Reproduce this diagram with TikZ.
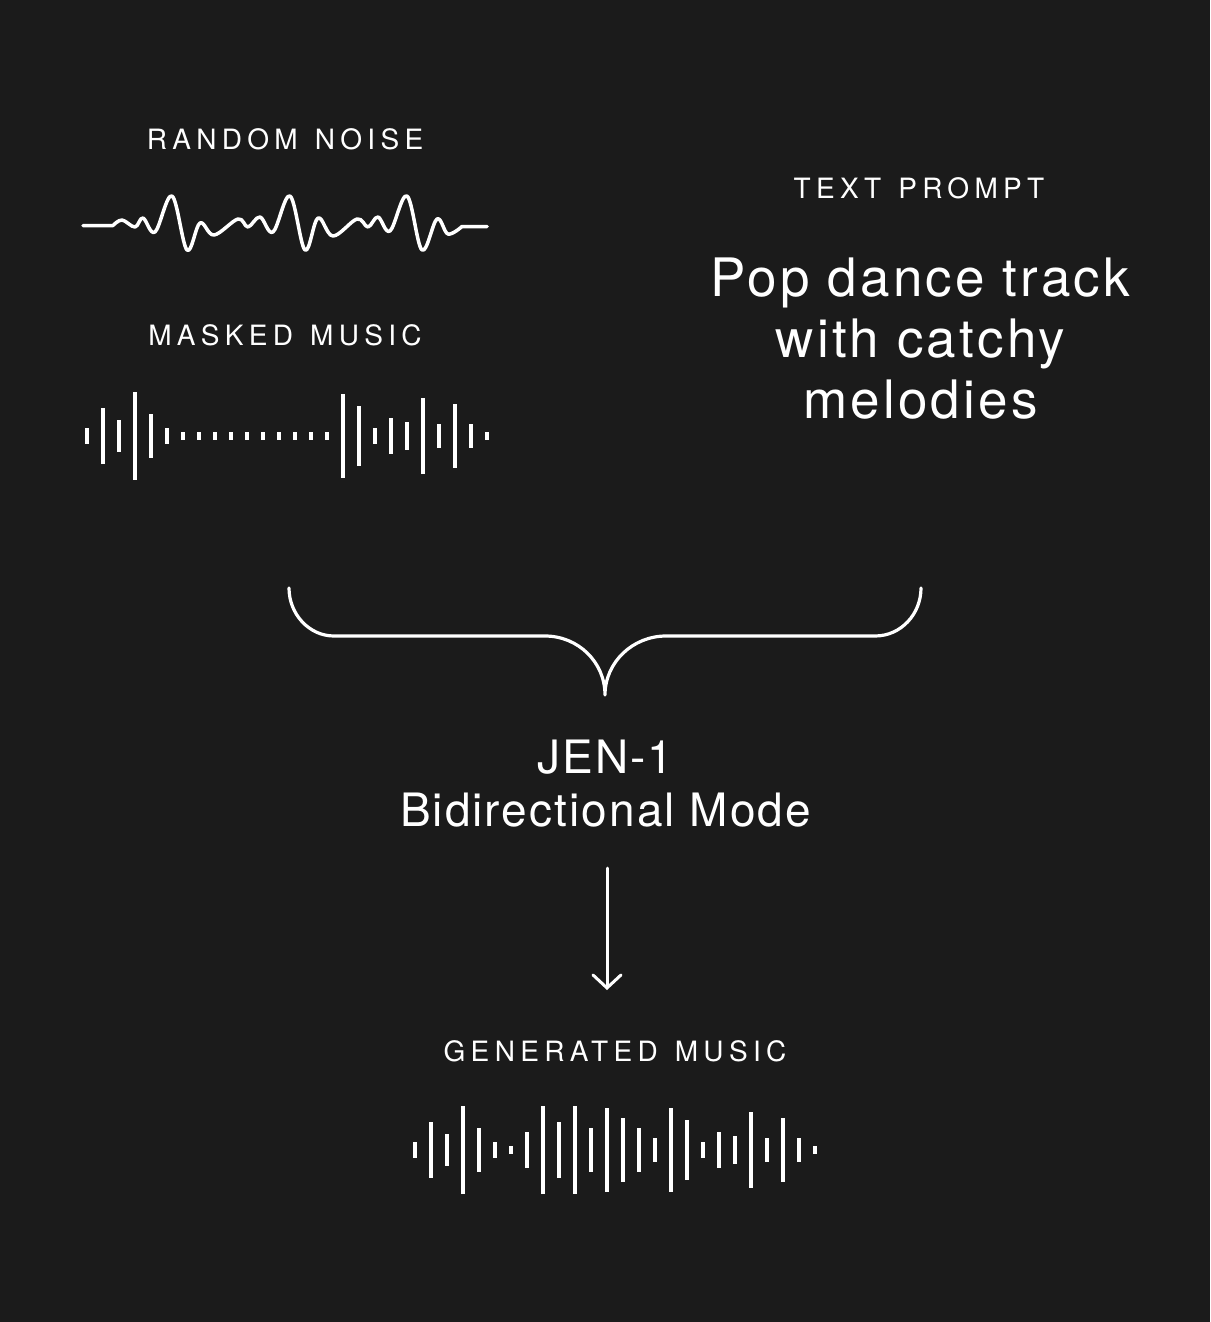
\documentclass[tikz,border=0pt]{standalone}
\usepackage{fontspec}
\setmainfont{TeX Gyre Heros}
\newfontfamily\capsfont[LetterSpace=19,WordSpace=1.3]{TeX Gyre Heros}
\newfontfamily\bigfont[LetterSpace=6]{TeX Gyre Heros}
\newfontfamily\midfont[LetterSpace=4.5]{TeX Gyre Heros}
\usetikzlibrary{arrows.meta}
\definecolor{bgdark}{RGB}{27,27,27}

\begin{document}
\begin{tikzpicture}[x=1pt,y=1pt,yscale=-1,xscale=1,
  every node/.style={text=white,inner sep=0pt},
  caplabel/.style={font=\capsfont\fontsize{28}{34}\selectfont,anchor=base},
  bar/.style={draw=white,line width=4pt,line cap=butt},
  stroke/.style={draw=white,line width=3.2pt,line cap=round,line join=round}]
\fill[bgdark] (0,0) rectangle (1210,1322);

\node[caplabel] (noiselbl) at (285,149) {RANDOM NOISE};
\node[caplabel] (masklbl) at (285,345) {MASKED MUSIC};
\node[caplabel] (promptlbl) at (919,198) {TEXT PROMPT};
\node[caplabel] (genlbl) at (615,1061) {GENERATED MUSIC};

\node[anchor=north,align=center,font=\bigfont\fontsize{53}{61}\selectfont] (prompt) at (920.5,258) {Pop dance track\\with catchy\\melodies};
\node[anchor=north,align=center,font=\midfont\fontsize{46}{53}\selectfont] (jen) at (605.5,740) {JEN-1\\Bidirectional Mode};

%noise wave
\draw[stroke,line width=3.5pt] (83,225.5) -- plot[smooth,tension=0.6] coordinates {(113,225.5) (122,220) (135,227) (143,218) (155,232) (172,196) (187,250) (200,223) (214,235) (238,219) (248,227) (260,217) (273,232) (290,196) (305,250) (318,218) (333,236) (357,219) (368,227) (378,217) (390,231) (407,196) (422,250) (437,219) (448,234) (462,226.5)} -- (487,226.5);

%masked music bars
\foreach \h [count=\i from 0] in {16,56,32,88,44,16,8,8,8,8,8,8,8,8,8,8,84,60,16,36,28,76,24,64,24,8}
  \draw[bar] ({87+16*\i},{436-\h/2}) -- ({87+16*\i},{436+\h/2});

%brace
\coordinate (braceL) at (289,588);
\coordinate (braceR) at (921,588);
\coordinate (braceM) at (605,695);
\draw[stroke] (braceL) .. controls (289,614) and (309,636) .. (334,636) -- (545,636)
  .. controls (578,636) and (605,662) .. (braceM)
  .. controls (605,662) and (633,636) .. (666,636) -- (875,636)
  .. controls (901,636) and (921,614) .. (braceR);

%arrow
\coordinate (arrtop) at (607,868);
\coordinate (arrtip) at (607,990);
\draw[stroke,line width=3pt,-{Straight Barb[length=13pt,width=28pt,line cap=round]}] (arrtop) -- (arrtip);

%generated music bars
\foreach \h [count=\i from 0] in {16,56,32,88,44,16,8,36,88,56,88,44,84,64,44,24,84,60,16,36,28,76,24,64,24,8}
  \draw[bar] ({415+16*\i},{1150-\h/2}) -- ({415+16*\i},{1150+\h/2});
\end{tikzpicture}
\end{document}
